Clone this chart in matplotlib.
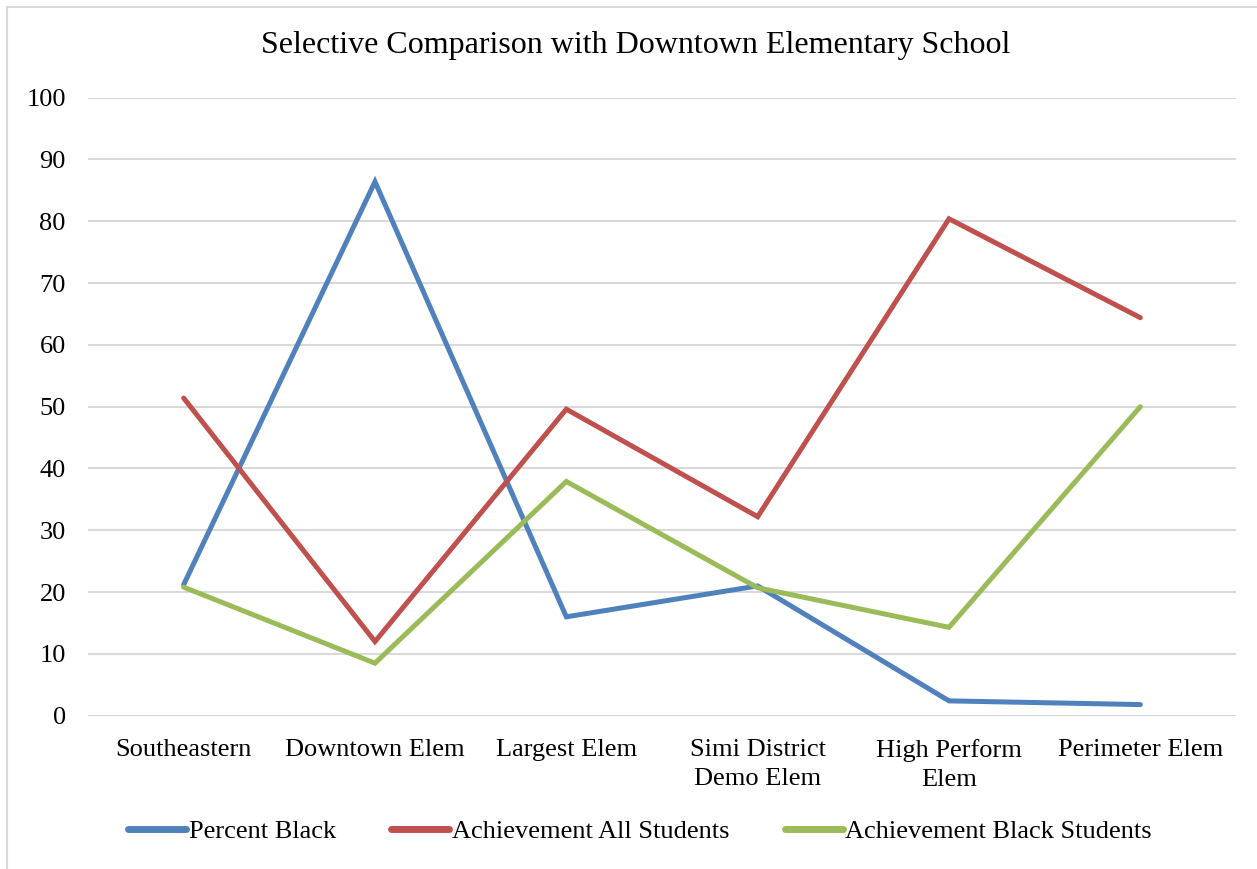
import matplotlib
matplotlib.use("Agg")
import matplotlib.pyplot as plt
from matplotlib.patches import Rectangle

plt.rcParams['font.family'] = ['Liberation Serif', 'DejaVu Serif']

schools = ["Southeastern", "Downtown Elem", "Largest Elem",
           "Simi District\nDemo Elem", "High Perform\nElem", "Perimeter Elem"]
percent_black = [21.2, 86.4, 16.0, 21.0, 2.4, 1.8]
achievement_all = [51.4, 12.0, 49.6, 32.2, 80.4, 64.4]
achievement_black = [20.8, 8.5, 37.9, 20.7, 14.3, 50.0]
y_ticks = [0, 10, 20, 30, 40, 50, 60, 70, 80, 90, 100]

series = [
    ("Percent Black", percent_black, "#4F81BD"),
    ("Achievement All Students", achievement_all, "#C0504D"),
    ("Achievement Black Students", achievement_black, "#9BBB59"),
]

fig = plt.figure(figsize=(12.57, 8.69), dpi=100)
ax = fig.add_axes([0.070, 0.1764, 0.9133, 0.7112])

# Light outer frame of the chart area
fig.patches.append(Rectangle((7 / 1257, -0.1), 1.2, 1 - 7 / 869 + 0.1,
                             transform=fig.transFigure, fill=False,
                             edgecolor="#D9D9D9", linewidth=1.5))

x = list(range(len(schools)))
for name, vals, color in series:
    ax.plot(x, vals, color=color, linewidth=3.6, solid_capstyle="round",
            solid_joinstyle="miter", label=name, zorder=3)

ax.set_xlim(-0.5, len(schools) - 0.5)
ax.set_ylim(0, 100)
ax.set_yticks(y_ticks)
ax.set_xticks(x)
ax.set_xticklabels(schools, fontsize=19, linespacing=1.38)
ax.tick_params(axis="y", labelsize=19, length=0, pad=16)
ax.tick_params(axis="x", length=0, pad=17)
ax.yaxis.grid(True, color="#D9D9D9", linewidth=1.5, zorder=0)
for s in ax.spines.values():
    s.set_visible(False)

fig.text(636 / 1257, 1 - 45 / 869,
         "Selective Comparison with Downtown Elementary School",
         fontsize=23, ha="center", va="center")

leg = fig.legend(loc="center", bbox_to_anchor=(640 / 1257, 1 - 831 / 869),
                 ncol=3, frameon=False, fontsize=19, handlelength=2.2,
                 handletextpad=0.1, columnspacing=2.1)
for line in leg.get_lines():
    line.set_linewidth(5)

fig.savefig("out.png", dpi=100, facecolor="white")
